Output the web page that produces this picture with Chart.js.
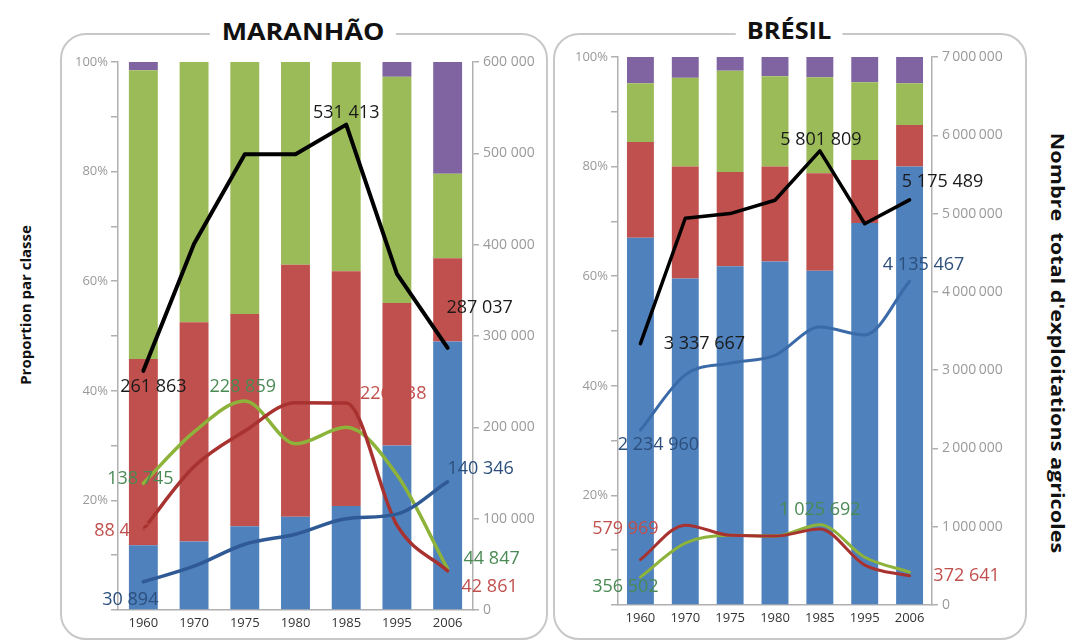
<!DOCTYPE html>
<html>
<head>
<meta charset="utf-8">
<script src="https://cdn.jsdelivr.net/npm/chart.js@4.4.1/dist/chart.umd.min.js"></script>
<style>
  html,body{margin:0;padding:0;background:#fff;}
  body{width:1078px;height:644px;position:relative;overflow:hidden;font-family:"Open Sans",sans-serif;}
  .frame{position:absolute;border:2px solid #c8c8c8;border-radius:26px;box-sizing:border-box;}
  .title{position:absolute;background:#fff;font-weight:bold;font-size:23px;line-height:26px;padding:0 10px;color:#111;white-space:nowrap;}
  .side{position:absolute;font-weight:bold;white-space:nowrap;color:#111;}
  canvas{position:absolute;}
</style>
</head>
<body>
<div class="frame" style="left:60px;top:33px;width:488px;height:607px;"></div>
<div class="frame" style="left:553px;top:33px;width:474px;height:607px;"></div>
<div class="title" style="left:303px;top:31px;transform:translate(-50%,-50%) scaleX(1.17);">MARANHÃO</div>
<div class="title" style="left:789px;top:30px;transform:translate(-50%,-50%) scaleX(1.1);">BRÉSIL</div>
<div class="side" style="left:25px;top:305px;font-size:15px;transform:translate(-50%,-50%) rotate(-90deg);">Proportion par classe</div>
<div class="side" style="left:1058px;top:343px;font-size:18px;transform:translate(-50%,-50%) rotate(90deg) scaleX(1.2);">Nombre&nbsp; total d'exploitations agricoles</div>

<canvas id="cMa" width="488" height="600" style="left:60px;top:40px;width:488px;height:600px;"></canvas>
<canvas id="cBr" width="475" height="600" style="left:553px;top:40px;width:475px;height:600px;"></canvas>

<script>
// ---------- DATA ----------
const years = ['1960','1970','1975','1980','1985','1995','2006'];

// Maranhão – proportion par classe (%)
const maPctBlue   = [11.8, 12.5, 15.3, 17.0, 19.0, 30.0, 49.0];
const maPctRed    = [34.0, 40.0, 38.7, 46.0, 42.8, 26.0, 15.2];
const maPctGreen  = [52.7, 47.5, 46.0, 37.0, 38.2, 41.3, 15.4];
const maPctPurple = [ 1.5,  0.0,  0.0,  0.0,  0.0,  2.7, 20.4];
// Maranhão – nombre d'exploitations
const maTotal = [261863, 401000, 499000, 499000, 531413, 368000, 287037];
const maBlue  = [ 30894,  48000,  72000,  83000, 100000, 105000, 140346];
const maRed   = [ 88436, 157000, 196000, 227000, 226538,  93000,  42861];
const maGreen = [138745, 195000, 228859, 182000, 200000, 148000,  44847];
const maRightTicks = [0, 100000, 200000, 300000, 400000, 500000, 600000];

// Brésil – proportion par classe (%)
const brPctBlue   = [67.0, 59.6, 61.8, 62.7, 61.0, 69.7, 80.0];
const brPctRed    = [17.5, 20.4, 17.2, 17.3, 17.8, 11.5,  7.6];
const brPctGreen  = [10.7, 16.2, 18.5, 16.5, 17.5, 14.2,  7.6];
const brPctPurple = [ 4.8,  3.8,  2.5,  3.5,  3.7,  4.6,  4.8];
// Brésil – nombre d'exploitations
const brTotal = [3337667, 4940000, 5000000, 5170000, 5801809, 4870000, 5175489];
const brBlue  = [2234960, 2940000, 3090000, 3190000, 3550000, 3450000, 4135467];
const brRed   = [ 579969, 1020000,  890000,  880000,  970000,  510000,  372641];
const brGreen = [ 356502,  790000,  890000,  880000, 1025692,  610000,  420000];
const brRightTicks = [0, 1000000, 2000000, 3000000, 4000000, 5000000, 6000000, 7000000];

// ---------- HELPERS ----------
const fmt = (v, sep) => String(Math.round(v)).replace(/\B(?=(\d{3})+(?!\d))/g, sep || ' ');
const COL = {blue:'#4F81BD', red:'#C0504D', green:'#9BBB59', purple:'#8064A2'};
const AXIS = '#b0b0b0';
const FONT = '"Open Sans", sans-serif';

const labelPlugin = {
  id: 'vlabels',
  afterDatasetsDraw(chart, args, opts) {
    const ctx = chart.ctx;
    (opts.items || []).forEach(it => {
      const ds = chart.data.datasets[it.ds];
      const el = chart.getDatasetMeta(it.ds).data[it.i];
      ctx.save();
      ctx.font = (opts.size || 16) + 'px ' + FONT;
      ctx.fillStyle = it.color;
      ctx.textAlign = 'center';
      ctx.textBaseline = 'middle';
      ctx.fillText(fmt(ds.data[it.i], opts.sep), el.x + it.dx, el.y + it.dy);
      ctx.restore();
    });
  }
};

function build(id, cfg) {
  const bar = (data, color) => ({type:'bar', data, backgroundColor:color, yAxisID:'y', stack:'s',
      barPercentage:cfg.barPct, categoryPercentage:1, order:2, borderWidth:0});
  const line = (data, color, w, smooth) => ({type:'line', data, borderColor:color, borderWidth:w, yAxisID:'y1',
      pointRadius:0, tension:smooth, cubicInterpolationMode: smooth ? 'monotone' : 'default',
      fill:false, order:1, borderCapStyle:'round', borderJoinStyle:'round'});
  return new Chart(document.getElementById(id), {
    data: {
      labels: years,
      datasets: [
        bar(cfg.pct[0], COL.blue), bar(cfg.pct[1], COL.red), bar(cfg.pct[2], COL.green), bar(cfg.pct[3], COL.purple),
        line(cfg.tot, '#000000', cfg.wBlack, 0),
        line(cfg.lines[0], cfg.lineCols[0], cfg.wCol, 0.4),
        line(cfg.lines[1], cfg.lineCols[1], cfg.wCol, 0.4),
        line(cfg.lines[2], cfg.lineCols[2], cfg.wCol, 0.4)
      ]
    },
    options: {
      responsive:false, animation:false, devicePixelRatio:1,
      layout:{padding:{top:cfg.padTop, left:0, right:0, bottom:0}},
      plugins:{legend:{display:false}, tooltip:{enabled:false}, vlabels:{items:cfg.labels, size:cfg.labelSize, sep:cfg.sep}},
      scales:{
        x:{stacked:true, grid:{display:false, drawTicks:false}, border:{color:AXIS, width:1.5},
           ticks:{color:'#333', font:{family:FONT, size:13}, padding:5, maxRotation:0, autoSkip:false},
           afterFit: s => { s.height = cfg.xH; }},
        y:{stacked:true, position:'left', min:0, max:100,
           ticks:{stepSize:10, autoSkip:false, padding:3, color:'#9a9a9a', font:{family:FONT, size:13},
                  callback: v => (v % 20 === 0 && v > 0 ? v + '%' : '')},
           grid:{drawOnChartArea:false, drawTicks:true, tickLength:7, color:AXIS, lineWidth:1.5},
           border:{color:AXIS, width:1.5},
           afterFit: s => { s.width = cfg.yW; }},
        y1:{position:'right', min:0, max:cfg.rMax,
           afterBuildTicks: s => { s.ticks = cfg.rTicks.map(v => ({value:v})); },
           ticks:{padding:4, color:'#9a9a9a', font:{family:FONT, size:14},
                  callback: v => fmt(v, cfg.tickSep)},
           grid:{drawOnChartArea:false, drawTicks:true, tickLength:6, color:AXIS, lineWidth:1.5},
           border:{color:AXIS, width:1.5},
           afterFit: s => { s.width = cfg.y1W; }}
      }
    },
    plugins:[labelPlugin]
  });
}

const GREEN_TXT = '#4a8a55', RED_TXT = '#c0504d', BLUE_TXT = '#2c4f7c', BLACK_TXT = '#1a1a1a';

build('cMa', {
  pct:[maPctBlue, maPctRed, maPctGreen, maPctPurple],
  tot:maTotal, lines:[maBlue, maRed, maGreen],
  lineCols:['#2f5a96', '#a8322f', '#8db33a'],
  wBlack:4, wCol:3.5, barPct:0.57, padTop:22, yW:58, y1W:75, xH:30,
  rMax:600000, rTicks:maRightTicks, tickSep:' ', sep:' ', labelSize:18,
  labels:[
    {ds:4, i:0, dx:10,  dy:16,  color:BLACK_TXT},
    {ds:4, i:4, dx:0,   dy:-12, color:BLACK_TXT},
    {ds:4, i:6, dx:32,  dy:-40, color:BLACK_TXT},
    {ds:7, i:2, dx:-2,  dy:-14, color:GREEN_TXT},
    {ds:6, i:4, dx:47,  dy:-9,  color:RED_TXT},
    {ds:7, i:0, dx:-3,  dy:-4,  color:GREEN_TXT},
    {ds:6, i:0, dx:-21, dy:2,   color:RED_TXT},
    {ds:5, i:0, dx:-13, dy:18,  color:BLUE_TXT},
    {ds:5, i:6, dx:33,  dy:-13, color:BLUE_TXT},
    {ds:7, i:6, dx:44,  dy:-10, color:GREEN_TXT},
    {ds:6, i:6, dx:42,  dy:16,  color:RED_TXT}
  ]
});

build('cBr', {
  pct:[brPctBlue, brPctRed, brPctGreen, brPctPurple],
  tot:brTotal, lines:[brBlue, brRed, brGreen],
  lineCols:['#3a6aa8', '#a8322f', '#8db33a'],
  wBlack:3.5, wCol:3, barPct:0.6, padTop:17, yW:65, y1W:96, xH:35,
  rMax:7000000, rTicks:brRightTicks, tickSep:'\u2009', sep:' ', labelSize:18,
  labels:[
    {ds:4, i:4, dx:1,   dy:-11, color:BLACK_TXT},
    {ds:4, i:6, dx:33,  dy:-18, color:BLACK_TXT},
    {ds:5, i:6, dx:14,  dy:-16, color:BLUE_TXT},
    {ds:4, i:0, dx:64,  dy:0,   color:BLACK_TXT},
    {ds:5, i:0, dx:18,  dy:15,  color:BLUE_TXT},
    {ds:6, i:0, dx:-15, dy:-31, color:RED_TXT},
    {ds:7, i:0, dx:-15, dy:10,  color:GREEN_TXT},
    {ds:7, i:4, dx:0,   dy:-15, color:GREEN_TXT},
    {ds:6, i:6, dx:57,  dy:0,   color:RED_TXT}
  ]
});
</script>
</body>
</html>
